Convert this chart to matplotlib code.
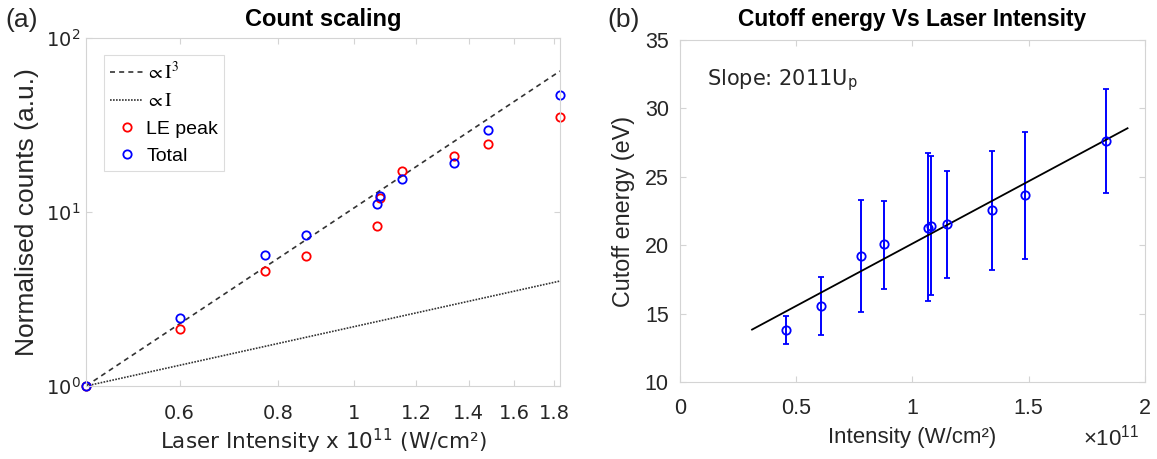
import numpy as np
import matplotlib
matplotlib.use('Agg')
import matplotlib.pyplot as plt

plt.rcParams['mathtext.fontset'] = 'stix'

# panel (a): count scaling
int_a = [0.456, 0.60, 0.77, 0.87, 1.07, 1.08, 1.15, 1.34, 1.48, 1.83]
le_peak = [1.0, 2.13, 4.6, 5.6, 8.3, 12.0, 17.2, 21.0, 24.6, 35.0]
total = [1.0, 2.45, 5.66, 7.4, 11.1, 12.4, 15.5, 19.2, 29.6, 47.0]
xticks_a = [0.6, 0.8, 1.0, 1.2, 1.4, 1.6, 1.8]
xticklabels_a = ['0.6', '0.8', '1', '1.2', '1.4', '1.6', '1.8']

# panel (b): cutoff energy
int_b = [0.456, 0.605, 0.778, 0.877, 1.067, 1.08, 1.15, 1.34, 1.482, 1.834]
cutoff = [13.84, 15.56, 19.2, 20.1, 21.3, 21.4, 21.59, 22.6, 23.7, 27.66]
err_hi = [14.88, 17.67, 23.34, 23.27, 26.74, 26.55, 25.45, 26.86, 28.27, 31.4]
err_lo = [12.84, 13.43, 15.15, 16.85, 15.98, 16.36, 17.63, 18.24, 19.04, 23.8]
fit_x = [0.31, 1.925]
fit_slope = 9.1
fit_icpt = 11.04

grey = '#d4d4d4'
txt = '#262626'

fig = plt.figure(figsize=(11.57, 4.59), dpi=100)

# ---- (a)
ax1 = fig.add_axes([0.0743, 0.159, 0.4097, 0.758])
x0 = int_a[0]
xl = np.array([x0, int_a[-1]])
ax1.plot(xl, (xl / x0) ** 3, '--', color='#333333', lw=1.2, dashes=(3, 2.5), label=r'$\propto\mathrm{I}^3$')
ax1.plot(xl, xl / x0, color='#333333', lw=1.2, ls=(0, (1, 0.8)), label=r'$\propto\mathrm{I}$')
ax1.plot(int_a, le_peak, 'o', mfc='none', mec='r', ms=6, mew=1.3, ls='none', label='LE peak', clip_on=False)
ax1.plot(int_a, total, 'o', mfc='none', mec='b', ms=6, mew=1.3, ls='none', label='Total', clip_on=False)
ax1.set_xscale('log')
ax1.set_yscale('log')
ax1.set_xlim(int_a[0], int_a[-1])
ax1.set_ylim(1, 100)
ax1.set_xticks(xticks_a)
ax1.set_xticklabels(xticklabels_a)
ax1.xaxis.set_minor_locator(matplotlib.ticker.NullLocator())
ax1.yaxis.set_minor_locator(matplotlib.ticker.NullLocator())
ax1.tick_params(direction='in', length=4, color=grey, labelsize=14, labelcolor=txt, top=True, right=True)
ax1.tick_params(axis='x', pad=13)
ax1.tick_params(axis='y', pad=4)
for s in ax1.spines.values():
    s.set_color(grey)
ax1.set_xlabel(r'Laser Intensity x 10$^\mathregular{11}$ (W/cm²)', fontsize=15.5, color=txt, labelpad=2)
ax1.set_ylabel('Normalised counts (a.u.)', fontsize=19, family='Liberation Sans', color=txt, labelpad=5)
ax1.set_title('Count scaling', fontsize=17, fontweight='bold', family='Liberation Sans', pad=9)
leg = ax1.legend(loc='upper left', bbox_to_anchor=(0.039, 0.951), borderaxespad=0, frameon=True, fancybox=False,
                 edgecolor=grey, handlelength=1.7, handletextpad=0.15, borderpad=0.3, labelspacing=0.5,
                 prop={'family': 'Liberation Sans', 'size': 14})
leg.get_frame().set_linewidth(0.8)
fig.text(0.005, 0.956, '(a)', fontsize=19, family='Liberation Sans', color=txt, va='center')

# ---- (b)
ax2 = fig.add_axes([0.5877, 0.1667, 0.4019, 0.7462])
yerr = [np.array(cutoff) - np.array(err_lo), np.array(err_hi) - np.array(cutoff)]
ax2.errorbar(int_b, cutoff, yerr=yerr, fmt='o', mfc='none', mec='b', ecolor='b', ms=6, mew=1.3,
             elinewidth=1.4, capsize=2.5, capthick=1.4)
fx = np.array(fit_x)
ax2.plot(fx, fit_icpt + fit_slope * fx, color='k', lw=1.3)
ax2.set_xlim(0, 2)
ax2.set_ylim(10, 35)
ax2.set_xticks([0, 0.5, 1, 1.5, 2])
ax2.set_xticklabels(['0', '0.5', '1', '1.5', '2'])
ax2.set_yticks([10, 15, 20, 25, 30, 35])
ax2.tick_params(direction='in', length=4, color=grey, labelsize=15.5, labelcolor=txt, top=True, right=True)
ax2.tick_params(axis='x', pad=11)
ax2.tick_params(axis='y', pad=8)
for lab in ax2.get_xticklabels() + ax2.get_yticklabels():
    lab.set_family('Liberation Sans')
for s in ax2.spines.values():
    s.set_color(grey)
ax2.set_xlabel('Intensity (W/cm²)', fontsize=16, family='Liberation Sans', color=txt, labelpad=6)
ax2.set_ylabel('Cutoff energy (eV)', fontsize=16.8, family='Liberation Sans', color=txt, labelpad=7)
ax2.set_title('Cutoff energy Vs Laser Intensity', fontsize=16.4, fontweight='bold', family='Liberation Sans', pad=10)
ax2.text(0.058, 0.883, r'Slope: 2011U$_\mathregular{p}$', transform=ax2.transAxes, fontsize=15, color=txt,
         va='center')
ax2.text(0.989, -0.162, r'$\mathregular{\times10^{11}}$', transform=ax2.transAxes, ha='right', va='center',
         fontsize=16, family='Liberation Sans', color=txt)
fig.text(0.5246, 0.956, '(b)', fontsize=19, family='Liberation Sans', color=txt, va='center')

fig.savefig('out.png', dpi=100)
